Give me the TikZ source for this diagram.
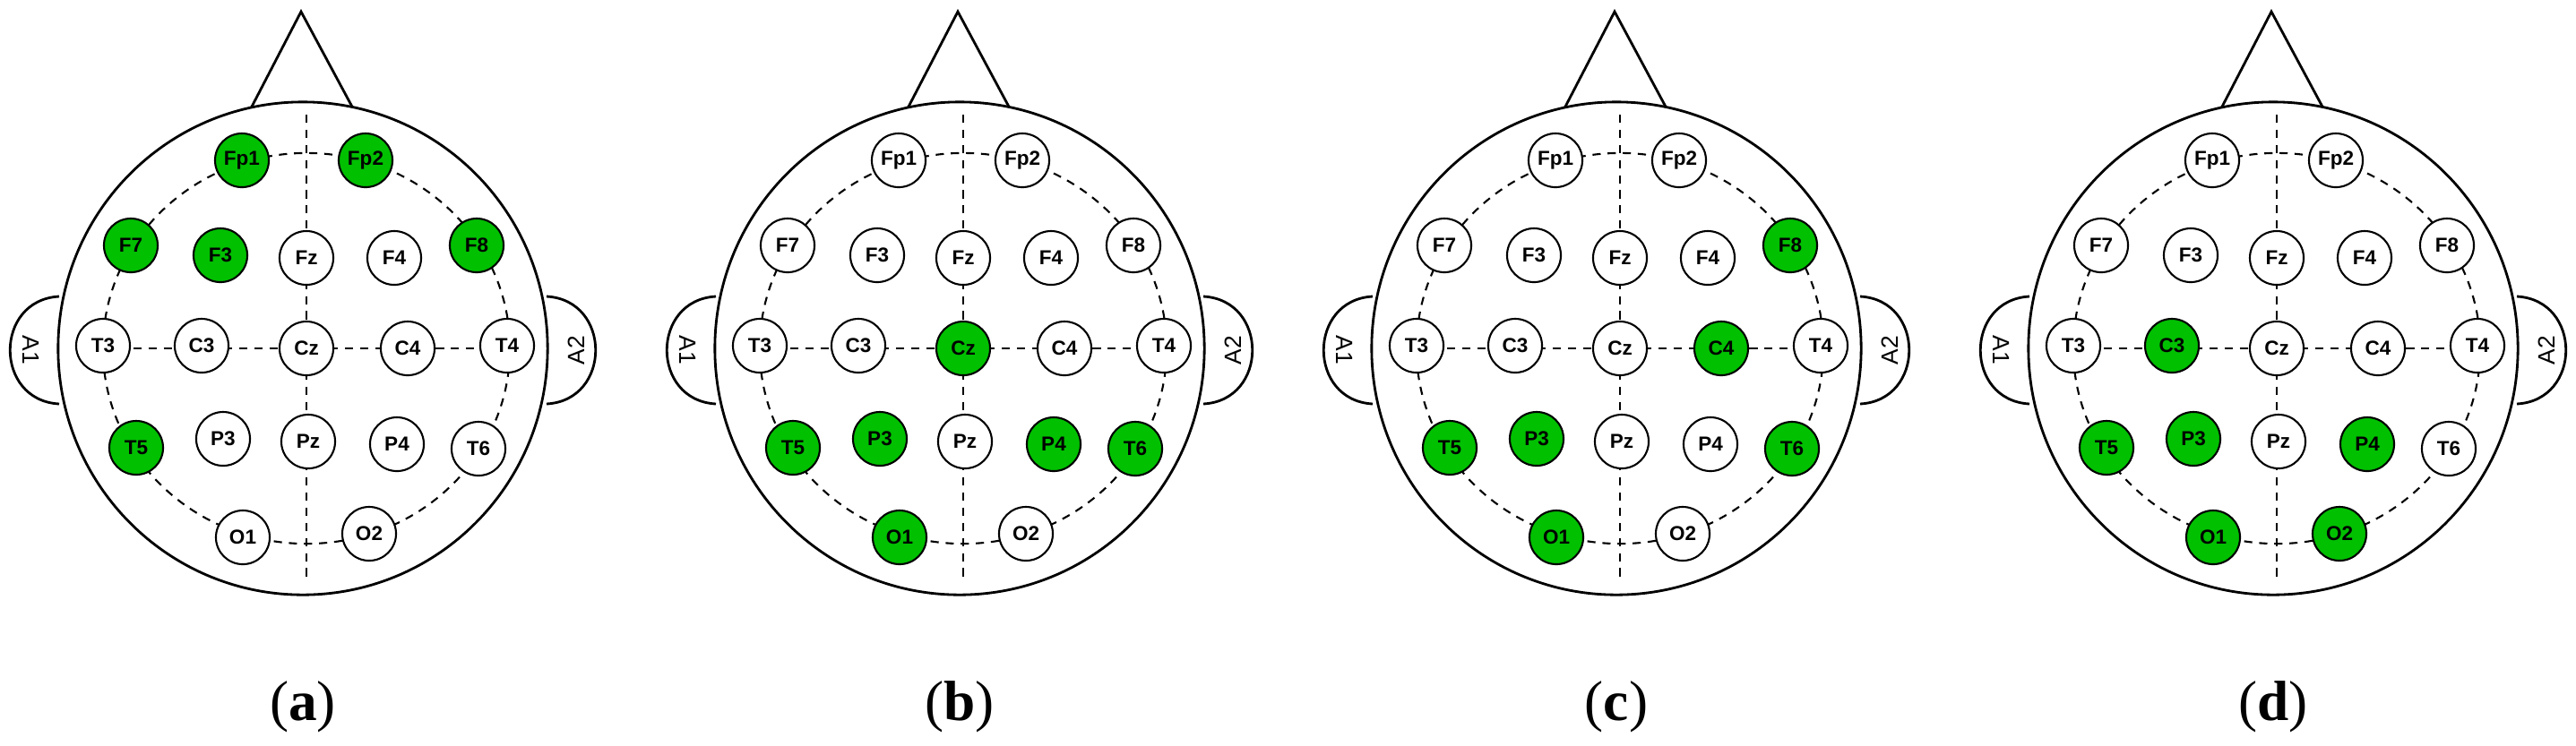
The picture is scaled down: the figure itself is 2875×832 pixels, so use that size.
\documentclass[tikz,border=0pt]{standalone}
\usepackage{fontspec}
\setsansfont{Liberation Sans}
\newfontfamily\capfont{Liberation Serif}
\usepackage{xcolor}
\definecolor{EEGGreen}{HTML}{00C000}
\usetikzlibrary{positioning}

\tikzset{
  outline/.style={line width=0.8pt},
  guide/.style={line width=0.6pt, dash pattern=on 2.6pt off 2.2pt},
  electrode/.style={circle, draw, line width=0.6pt, minimum size=0.6cm, inner sep=0pt,
    font=\sffamily\bfseries\fontsize{6.4}{7}\selectfont},
  earlabel/.style={font=\sffamily\fontsize{7.5}{8}\selectfont},
  caption/.style={font=\capfont\fontsize{18}{20}\selectfont}
}

\makeatletter
% one head: centre x, panel name, highlighted electrodes
\newcommand\eegHead[3]{%
  \begin{scope}[shift={(#1,389)}]
    % nose, ears, skull
    \coordinate (#2-nl) at (-58,-268);
    \coordinate (#2-nr) at (56,-268);
    \coordinate (#2-tip) at (-2,-376);
    \draw[outline] (#2-nl) -- (#2-tip) -- (#2-nr);
    \draw[outline] (-272,-58) .. controls (-345,-54) and (-345,58) .. (-272,62);
    \draw[outline] (272,-58) .. controls (345,-54) and (345,58) .. (272,62);
    \draw[outline, fill=white] (0,0) ellipse [x radius=2.73cm, y radius=2.75cm];
    \node[earlabel, rotate=-90] (#2-A1) at (-303,2) {A1};
    \node[earlabel, rotate=90] (#2-A2) at (305,2) {A2};
    % guide lines
    \coordinate (#2-top) at (4,-261);
    \coordinate (#2-bot) at (4,259);
    \coordinate (#2-east) at (266,0);
    \draw[guide] (4,0) ellipse [x radius=2.27cm, y radius=2.18cm];
    \draw[guide] (#2-top) -- (#2-bot);
    \draw[guide] (-223,0) -- (#2-east);
    % electrodes
    \foreach \n/\x/\y in {Fp1/-68/-210, Fp2/70/-210, F7/-192/-115, F3/-92/-104, Fz/4/-101,
        F4/102/-101, F8/194/-115, T3/-223/-3, C3/-113/-3, Cz/4/0, C4/117/0, T4/228/-3,
        T5/-186/111, P3/-89/101, Pz/6/104, P4/105/107, T6/196/112, O1/-67/211, O2/74/207} {
      \edef\eegTmp{\noexpand\in@{,\n,}{,#3,}}\eegTmp
      \ifin@\def\eegCol{EEGGreen}\else\def\eegCol{white}\fi
      \node[electrode, fill=\eegCol] (#2-\n) at (\x,\y) {\n};
    }
    \node[caption] (#2-cap) at (0,400) {(\textbf{#2})};
  \end{scope}
}
\makeatother

\begin{document}
\begin{tikzpicture}[x=0.01cm, y=-0.01cm]
  \useasboundingbox (0,0) rectangle (2875,832);
  \eegHead{338}{a}{Fp1,Fp2,F7,F3,F8,T5}
  \eegHead{1071}{b}{Cz,T5,P3,P4,T6,O1}
  \eegHead{1804}{c}{F8,C4,T5,P3,T6,O1}
  \eegHead{2537}{d}{C3,T5,P3,P4,O1,O2}
\end{tikzpicture}
\end{document}
